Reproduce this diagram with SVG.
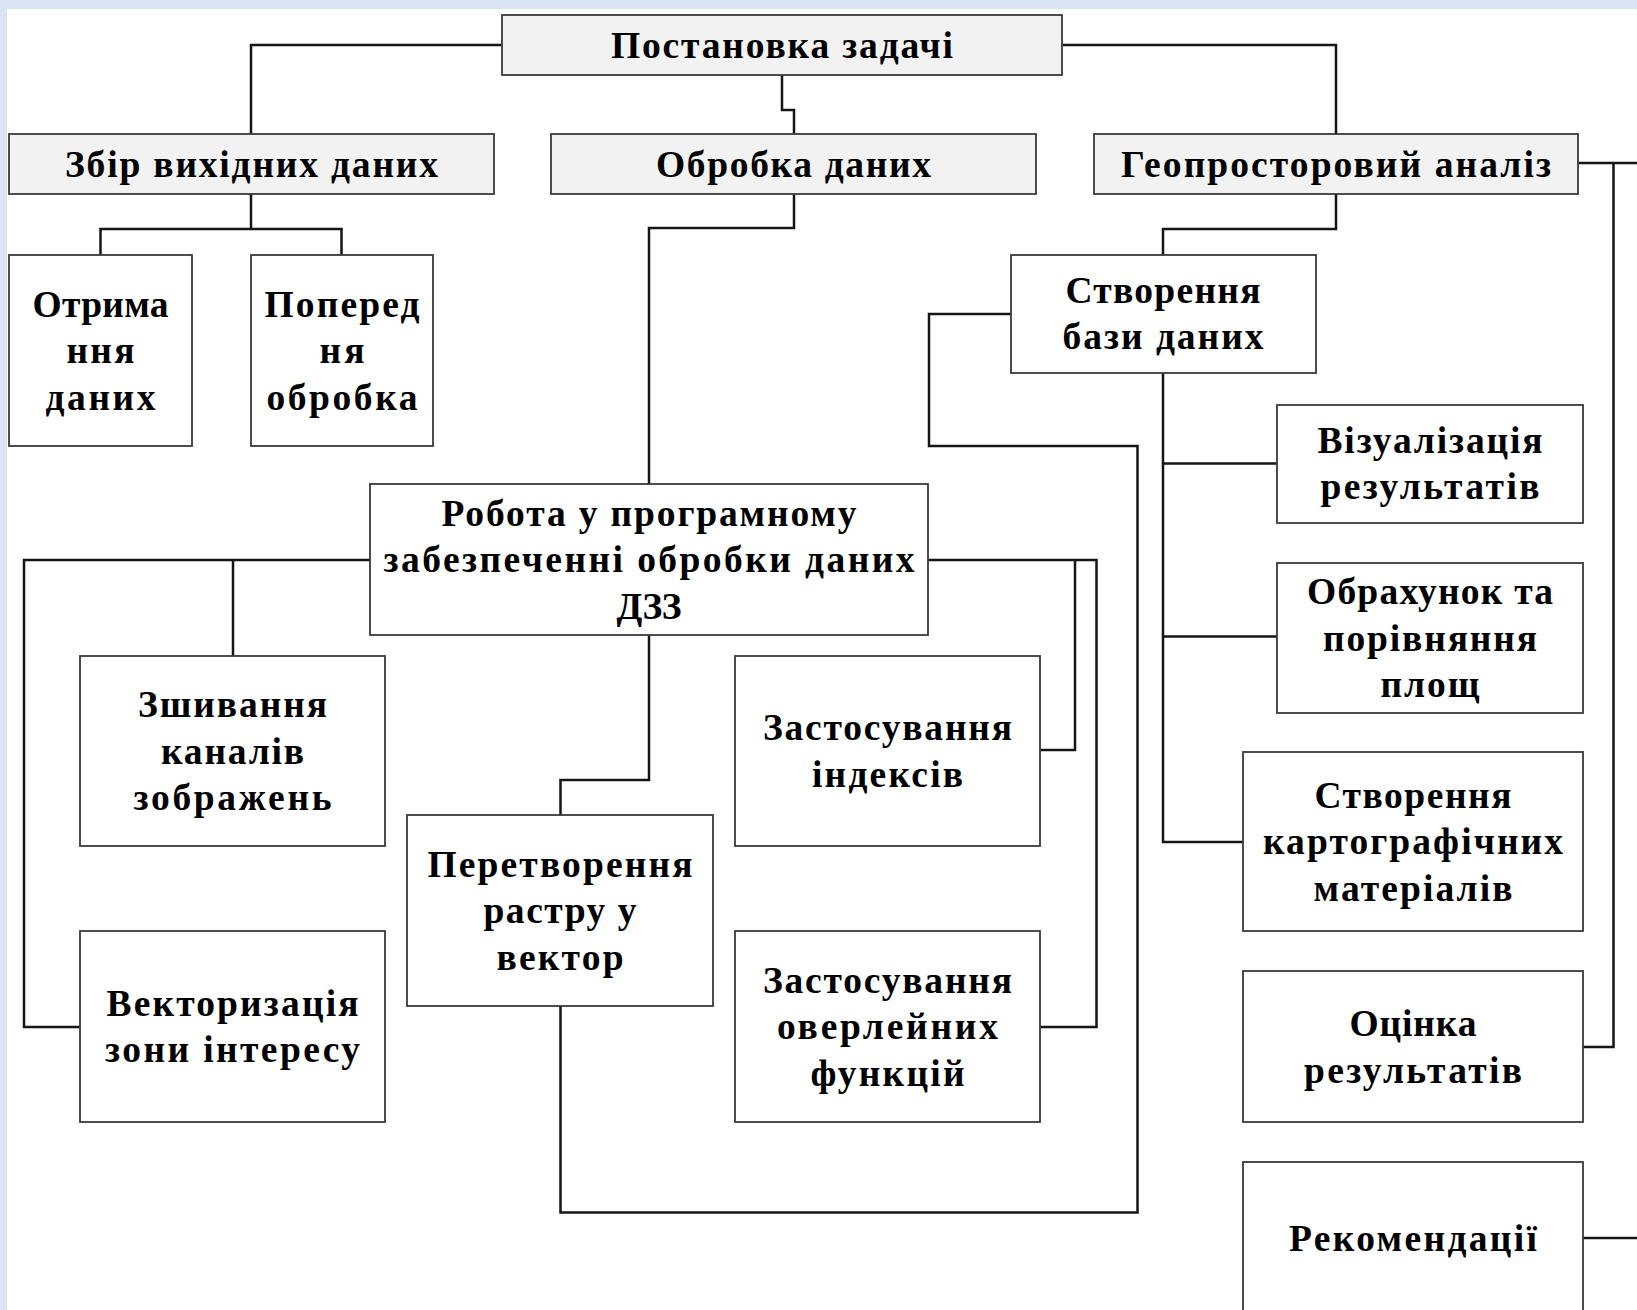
<svg xmlns="http://www.w3.org/2000/svg" width="1637" height="1310" viewBox="0 0 1637 1310">
<style>
.bg{fill:#dbe4f4}
.page{fill:#ffffff}
.box{fill:#ffffff;stroke:#3a3a3a;stroke-width:1.8}
.gray{fill:#f2f2f2}
.ln{fill:none;stroke:#151515;stroke-width:2.5;stroke-linejoin:miter}
text{font-family:"Liberation Serif","DejaVu Serif",serif;font-weight:bold;font-size:37.5px;fill:#000000;text-anchor:middle}
</style>
<rect class="bg" x="0" y="0" width="1637" height="1310"/>
<rect class="page" x="7" y="9" width="1630" height="1301"/>

<g id="connectors">
<path class="ln" d="M502,45 H251 V134"/>
<path class="ln" d="M1062,45 H1336 V134"/>
<path class="ln" d="M782,75 V110 H794 V134"/>
<path class="ln" d="M251,194 V229"/>
<path class="ln" d="M100.5,255 V229 H341.5 V255"/>
<path class="ln" d="M794,194 V228 H649 V484"/>
<path class="ln" d="M1336,194 V229 H1163 V255"/>
<path class="ln" d="M1578,163 H1637"/>
<path class="ln" d="M1613.5,163 V1047 H1583"/>
<path class="ln" d="M1583,1238 H1637"/>
<path class="ln" d="M1011,314 H929 V446 H1137.5 V1212.5 H560.5 V1006"/>
<path class="ln" d="M1163,373 V842 H1243"/>
<path class="ln" d="M1163,463.5 H1277"/>
<path class="ln" d="M1163,636.5 H1277"/>
<path class="ln" d="M370,560 H24 V1027 H80"/>
<path class="ln" d="M233,560 V656"/>
<path class="ln" d="M928,560 H1096.5 V1027 H1040"/>
<path class="ln" d="M1075,560 V750 H1040"/>
<path class="ln" d="M649,635 V780 H560.5 V815"/>
</g>

<g id="n1">
<rect class="box gray" x="502" y="15" width="560" height="60"/>
<text x="782" y="57.5" textLength="342">Постановка задачі</text>
</g>
<g id="n2">
<rect class="box gray" x="9" y="134" width="485" height="60"/>
<text x="251.5" y="176.5" textLength="373">Збір вихідних даних</text>
</g>
<g id="n3">
<rect class="box gray" x="551" y="134" width="485" height="60"/>
<text x="793.5" y="176.5" textLength="275">Обробка даних</text>
</g>
<g id="n4">
<rect class="box gray" x="1094" y="134" width="484" height="60"/>
<text x="1336" y="176.5" textLength="430">Геопросторовий аналіз</text>
</g>
<g id="n5">
<rect class="box" x="9" y="255" width="183" height="191"/>
<text x="100.5" y="316.5" textLength="136">Отрима</text>
<text x="100.5" y="363" textLength="68">ння</text>
<text x="100.5" y="409.5" textLength="110">даних</text>
</g>
<g id="n6">
<rect class="box" x="251" y="255" width="182" height="191"/>
<text x="342" y="316.5" textLength="155">Поперед</text>
<text x="342" y="363" textLength="45">ня</text>
<text x="342" y="409.5" textLength="151">обробка</text>
</g>
<g id="n7">
<rect class="box" x="1011" y="255" width="305" height="118"/>
<text x="1163" y="302.5" textLength="195">Створення</text>
<text x="1163" y="349" textLength="201">бази даних</text>
</g>
<g id="n8">
<rect class="box" x="1277" y="405" width="306" height="118"/>
<text x="1430" y="452.5" textLength="225">Візуалізація</text>
<text x="1430" y="499" textLength="219">результатів</text>
</g>
<g id="n9">
<rect class="box" x="370" y="484" width="558" height="151"/>
<text x="649" y="525.5" textLength="415">Робота у програмному</text>
<text x="649" y="572" textLength="531">забезпеченні обробки даних</text>
<text x="649" y="618.5" textLength="65">ДЗЗ</text>
</g>
<g id="n10">
<rect class="box" x="1277" y="563" width="306" height="150"/>
<text x="1430" y="604" textLength="246">Обрахунок та</text>
<text x="1430" y="650.5" textLength="214">порівняння</text>
<text x="1430" y="697" textLength="99">площ</text>
</g>
<g id="n11">
<rect class="box" x="80" y="656" width="305" height="190"/>
<text x="232.5" y="717" textLength="189">Зшивання</text>
<text x="232.5" y="763.5" textLength="143">каналів</text>
<text x="232.5" y="810" textLength="198">зображень</text>
</g>
<g id="n12">
<rect class="box" x="735" y="656" width="305" height="190"/>
<text x="887.5" y="740" textLength="249">Застосування</text>
<text x="887.5" y="786.5" textLength="151">індексів</text>
</g>
<g id="n13">
<rect class="box" x="407" y="815" width="306" height="191"/>
<text x="560" y="876.5" textLength="265">Перетворення</text>
<text x="560" y="923" textLength="153">растру у</text>
<text x="560" y="969.5" textLength="127">вектор</text>
</g>
<g id="n14">
<rect class="box" x="1243" y="752" width="340" height="179"/>
<text x="1413" y="807.5" textLength="197">Створення</text>
<text x="1413" y="854" textLength="300">картографічних</text>
<text x="1413" y="900.5" textLength="199">матеріалів</text>
</g>
<g id="n15">
<rect class="box" x="80" y="931" width="305" height="191"/>
<text x="232.5" y="1015.5" textLength="252">Векторизація</text>
<text x="232.5" y="1062" textLength="255">зони інтересу</text>
</g>
<g id="n16">
<rect class="box" x="735" y="931" width="305" height="191"/>
<text x="887.5" y="992.5" textLength="249">Застосування</text>
<text x="887.5" y="1039" textLength="221">оверлейних</text>
<text x="887.5" y="1085.5" textLength="154">функцій</text>
</g>
<g id="n17">
<rect class="box" x="1243" y="971" width="340" height="151"/>
<text x="1413" y="1036" textLength="127">Оцінка</text>
<text x="1413" y="1082.5" textLength="218">результатів</text>
</g>
<g id="n18">
<rect class="box" x="1243" y="1162" width="340" height="160"/>
<text x="1413" y="1250.5" textLength="248">Рекомендації</text>
</g>
</svg>
